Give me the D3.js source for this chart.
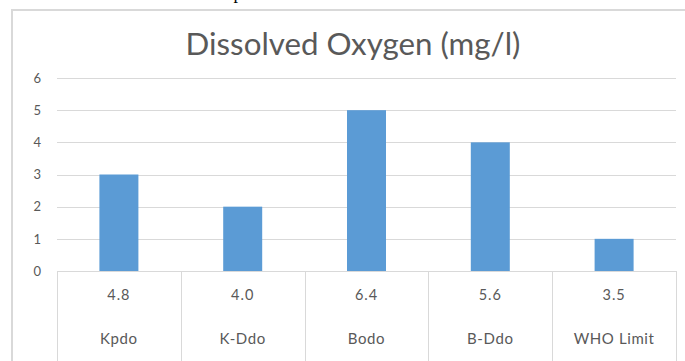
<!DOCTYPE html>
<html>
<head>
<meta charset="utf-8">
<script src="https://cdn.jsdelivr.net/npm/d3@7"></script>
<style>
  html, body { margin: 0; padding: 0; background: #ffffff; }
  svg { display: block; }
</style>
</head>
<body>
<svg id="chart" width="685" height="361"></svg>
<script>
// ---- data ----
const categories = ["Kpdo", "K-Ddo", "Bodo", "B-Ddo", "WHO Limit"];
const doLabels = ["4.8", "4.0", "6.4", "5.6", "3.5"];
const values = [3, 2, 5, 4, 1];
const yTicks = [0, 1, 2, 3, 4, 5, 6];
const titleText = "Dissolved Oxygen (mg/l)";

// ---- layout ----
const W = 685, H = 361;
const plot = { left: 57, right: 676, top: 78, bottom: 271 };
const textColor = "#595959";
const gridColor = "#d9d9d9";
const barColor = "#5b9bd5";
const font = "Lato, 'Open Sans', sans-serif";

const svg = d3.select("#chart");

// document text fragment above the chart (cut off in the reference as well)
svg.append("text")
  .attr("x", 238).attr("y", -1)
  .attr("text-anchor", "middle")
  .attr("font-family", "'Liberation Serif', serif")
  .attr("font-size", 18)
  .attr("fill", "#000")
  .text("p");

// chart frame (left and top borders visible)
svg.append("path")
  .attr("d", `M12,${H} L12,10 L${W},10`)
  .attr("fill", "none")
  .attr("stroke", gridColor)
  .attr("stroke-width", 2);

// scales
const x = d3.scaleBand()
  .domain(categories)
  .range([plot.left, plot.right])
  .paddingInner(0.685)
  .paddingOuter(0.3425);

const xCell = d3.scaleBand()
  .domain(categories)
  .range([plot.left, plot.right])
  .padding(0);

const y = d3.scaleLinear()
  .domain([0, 6])
  .range([plot.bottom, plot.top]);

// gridlines
svg.append("g")
  .selectAll("line")
  .data(yTicks.filter(d => d > 0))
  .join("line")
  .attr("x1", plot.left).attr("x2", plot.right)
  .attr("y1", d => Math.round(y(d)) + 0.5).attr("y2", d => Math.round(y(d)) + 0.5)
  .attr("stroke", gridColor)
  .attr("stroke-width", 1);

// y axis labels
const yAxis = d3.axisLeft(y).tickValues(yTicks).tickFormat(d3.format("d")).tickSize(0).tickPadding(16);
const yg = svg.append("g")
  .attr("transform", `translate(${plot.left},0)`)
  .call(yAxis);
yg.select(".domain").remove();
yg.selectAll("text")
  .attr("font-family", font)
  .attr("font-size", 13)
  .attr("fill", textColor);

// bars
svg.append("g")
  .selectAll("rect")
  .data(values)
  .join("rect")
  .attr("x", (d, i) => x(categories[i]))
  .attr("width", x.bandwidth())
  .attr("y", d => y(d))
  .attr("height", d => y(0) - y(d))
  .attr("fill", barColor);

// category table: axis line and separators
svg.append("line")
  .attr("x1", plot.left).attr("x2", plot.right)
  .attr("y1", plot.bottom + 0.5).attr("y2", plot.bottom + 0.5)
  .attr("stroke", gridColor);

const seps = categories.map(c => xCell(c)).concat([plot.right]);
svg.append("g")
  .selectAll("line")
  .data(seps)
  .join("line")
  .attr("x1", d => Math.round(d) + 0.5).attr("x2", d => Math.round(d) + 0.5)
  .attr("y1", plot.bottom).attr("y2", H)
  .attr("stroke", gridColor);

// category labels (two levels)
const cx = c => xCell(c) + xCell.bandwidth() / 2;
svg.append("g")
  .selectAll("text")
  .data(doLabels)
  .join("text")
  .attr("x", (d, i) => cx(categories[i]))
  .attr("y", 300)
  .attr("text-anchor", "middle")
  .attr("font-family", font)
  .attr("font-size", 14.5)
  .attr("letter-spacing", 1)
  .attr("fill", textColor)
  .text(d => d);

svg.append("g")
  .selectAll("text")
  .data(categories)
  .join("text")
  .attr("x", c => cx(c))
  .attr("y", 344)
  .attr("text-anchor", "middle")
  .attr("font-family", font)
  .attr("font-size", 15)
  .attr("letter-spacing", 0.6)
  .attr("fill", textColor)
  .text(c => c);

// title
const title = svg.append("text")
  .attr("x", 353)
  .attr("y", 55)
  .attr("text-anchor", "middle")
  .attr("font-family", font)
  .attr("font-size", 28)
  .attr("fill", textColor)
  .text(titleText);
const tw = title.node().getComputedTextLength();
if (tw > 0) title.attr("font-size", 28 * 335 / tw);
</script>
</body>
</html>
